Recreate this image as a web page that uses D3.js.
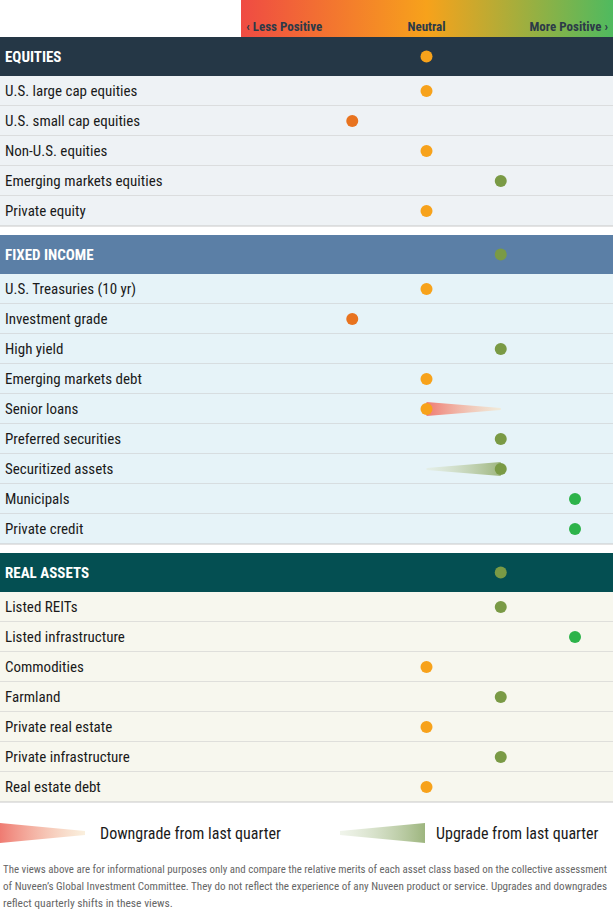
<!DOCTYPE html>
<html><head><meta charset="utf-8">
<script src="https://cdn.jsdelivr.net/npm/d3@7"></script>
<style>
body{margin:0;background:#fff;}
text{font-family:"Liberation Sans Narrow","Roboto Condensed","Liberation Sans",sans-serif;}
</style></head><body>
<svg id="c" width="613" height="915"></svg>
<script>
// views: -2 .. +2, prev = last quarter's view when changed
var equities = [
  {name: 'U.S. large cap equities', view: 0},
  {name: 'U.S. small cap equities', view: -1},
  {name: 'Non-U.S. equities', view: 0},
  {name: 'Emerging markets equities', view: 1},
  {name: 'Private equity', view: 0}
];
var fixedIncome = [
  {name: 'U.S. Treasuries (10 yr)', view: 0},
  {name: 'Investment grade', view: -1},
  {name: 'High yield', view: 1},
  {name: 'Emerging markets debt', view: 0},
  {name: 'Senior loans', view: 0, prev: 1},
  {name: 'Preferred securities', view: 1},
  {name: 'Securitized assets', view: 1, prev: 0},
  {name: 'Municipals', view: 2},
  {name: 'Private credit', view: 2}
];
var realAssets = [
  {name: 'Listed REITs', view: 1},
  {name: 'Listed infrastructure', view: 2},
  {name: 'Commodities', view: 0},
  {name: 'Farmland', view: 1},
  {name: 'Private real estate', view: 0},
  {name: 'Private infrastructure', view: 1},
  {name: 'Real estate debt', view: 0}
];
var sections = [
  {title: 'EQUITIES', view: 0, rows: equities, head: '#253746', bg: '#eef2f5'},
  {title: 'FIXED INCOME', view: 1, rows: fixedIncome, head: '#5b7fa6', bg: '#e6f3f8'},
  {title: 'REAL ASSETS', view: 1, rows: realAssets, head: '#044f52', bg: '#f7f7ee'}
];
var viewColor = {'-2': '#e8452c', '-1': '#e8731f', '0': '#f7a21b', '1': '#7a9a45', '2': '#2db34a'};

var svg = d3.select('#c');
var x = d3.scaleLinear().domain([-2, 2]).range([278, 575]);
var W = 613, headH = 39, rowH = 30, gap = 9;

var defs = svg.append('defs');
var g = defs.append('linearGradient').attr('id', 'top');
[['0%', '#ef4b43'], ['50%', '#f7a21b'], ['100%', '#4fba5f']].forEach(function(s) {
  g.append('stop').attr('offset', s[0]).attr('stop-color', s[1]);
});
var gd = defs.append('linearGradient').attr('id', 'down');
gd.append('stop').attr('offset', '0%').attr('stop-color', '#ef7b72');
gd.append('stop').attr('offset', '100%').attr('stop-color', '#f7e6c8').attr('stop-opacity', 0.6);
var gu = defs.append('linearGradient').attr('id', 'up');
gu.append('stop').attr('offset', '0%').attr('stop-color', '#e2ead8').attr('stop-opacity', 0.5);
gu.append('stop').attr('offset', '100%').attr('stop-color', '#9db57e');

svg.append('rect').attr('x', 241).attr('y', 0).attr('width', W - 241).attr('height', 37).attr('fill', 'url(#top)');
var hl = [[246, 'start', '‹   Less Positive'], [x(0), 'middle', 'Neutral'], [608, 'end', 'More Positive  ›']];
svg.selectAll('.hl').data(hl).enter().append('text')
  .attr('x', function(d) { return d[0]; }).attr('y', 31)
  .attr('text-anchor', function(d) { return d[1]; })
  .attr('font-size', 13).attr('font-weight', 'bold').attr('fill', '#2c3a48')
  .text(function(d) { return d[2]; });

function trail(gr, from, to, cy, grad) {
  // wedge: thick at the current view, thin at the previous one
  var x0 = x(to), x1 = x(from);
  gr.append('path')
    .attr('d', 'M' + x0 + ',' + (cy - 7) + 'L' + x1 + ',' + (cy - 1) + 'L' + x1 + ',' + (cy + 1) + 'L' + x0 + ',' + (cy + 7) + 'Z')
    .attr('fill', grad);
}

var y = 37;
sections.forEach(function(s) {
  var gs = svg.append('g');
  gs.append('rect').attr('x', 0).attr('y', y).attr('width', W).attr('height', headH).attr('fill', s.head);
  gs.append('text').attr('x', 5).attr('y', y + 25).attr('font-size', 15).attr('font-weight', 'bold')
    .attr('fill', '#fff').text(s.title);
  gs.append('circle').attr('cx', x(s.view)).attr('cy', y + headH / 2).attr('r', 6).attr('fill', viewColor[s.view]);
  var top = y + headH;
  var rows = gs.selectAll('g.row').data(s.rows).enter().append('g')
    .attr('transform', function(d, i) { return 'translate(0,' + (top + i * rowH) + ')'; });
  rows.append('rect').attr('width', W).attr('height', rowH).attr('fill', s.bg);
  rows.append('line').attr('x1', 0).attr('x2', W).attr('y1', rowH).attr('y2', rowH)
    .attr('stroke', '#c8c8c8').attr('stroke-width', 1.2);
  rows.append('text').attr('x', 5).attr('y', 20).attr('font-size', 15).attr('fill', '#1a1a1a')
    .text(function(d) { return d.name; });
  rows.each(function(d) {
    var r = d3.select(this);
    if (d.prev !== undefined) {
      trail(r, d.prev, d.view, 15, d.prev > d.view ? 'url(#down)' : 'url(#up)');
    }
    r.append('circle').attr('cx', x(d.view)).attr('cy', 15).attr('r', 6).attr('fill', viewColor[d.view]);
  });
  y = top + s.rows.length * rowH + gap;
});

// legend
var lg = svg.append('g');
lg.append('path').attr('d', 'M0,823L85,831L85,835L0,843Z').attr('fill', 'url(#down)');
lg.append('path').attr('d', 'M340,831L425,823L425,843L340,835Z').attr('fill', 'url(#up)');
lg.append('text').attr('x', 100).attr('y', 839).attr('font-size', 16).attr('fill', '#1a1a1a').text('Downgrade from last quarter');
lg.append('text').attr('x', 436).attr('y', 839).attr('font-size', 16).attr('fill', '#1a1a1a').text('Upgrade from last quarter');

var notes = [
  'The views above are for informational purposes only and compare the relative merits of each asset class based on the collective assessment',
  'of Nuveen\u2019s Global Investment Committee. They do not reflect the experience of any Nuveen product or service. Upgrades and downgrades',
  'reflect quarterly shifts in these views.'
];
svg.selectAll('.note').data(notes).enter().append('text')
  .attr('x', 3).attr('y', function(d, i) { return 873 + i * 17; })
  .attr('font-size', 11.5).attr('fill', '#666').attr('textLength', function(d, i) { return i < 2 ? 604 : null; })
  .attr('lengthAdjust', 'spacingAndGlyphs')
  .text(function(d) { return d; });
</script>
</body></html>
